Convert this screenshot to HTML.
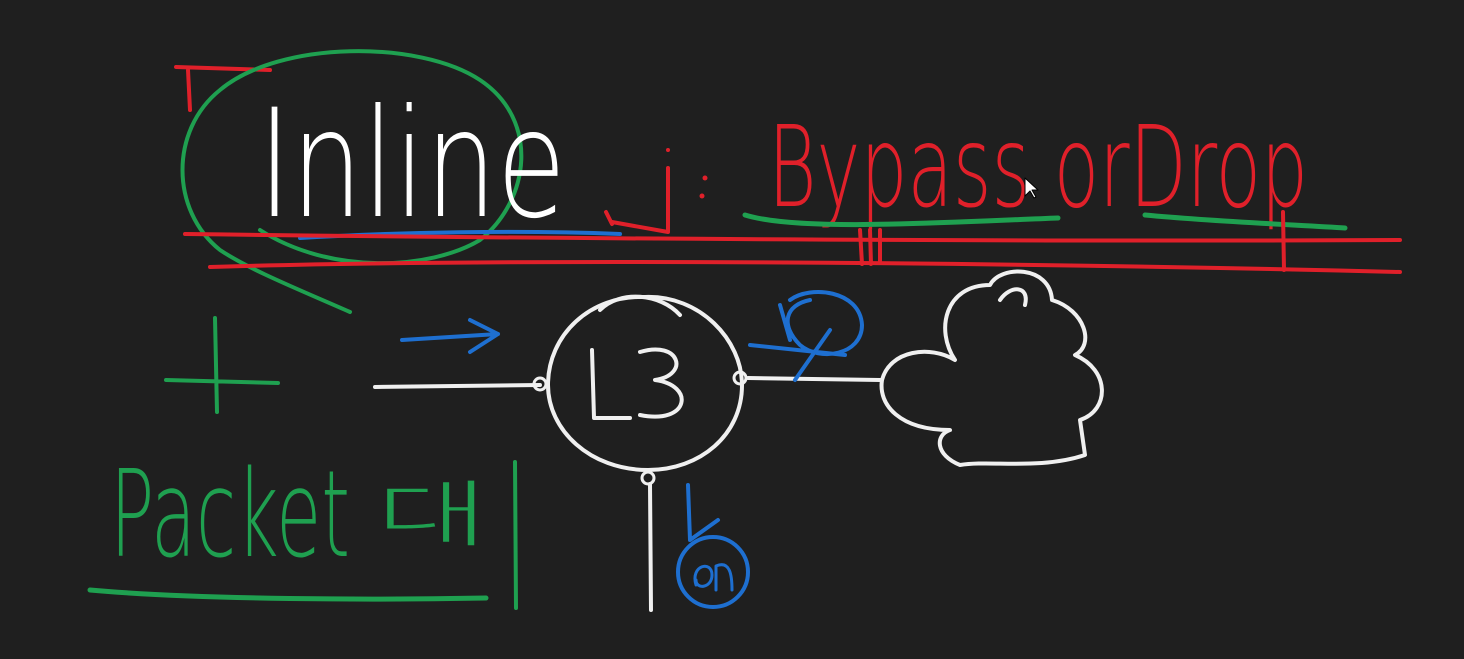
<!DOCTYPE html>
<html><head><meta charset="utf-8"><style>
html,body{margin:0;padding:0;background:#1f1f1f;width:1464px;height:659px;overflow:hidden}
svg{display:block}
text{font-family:"Liberation Sans","Noto Sans CJK KR",sans-serif}
</style></head><body>
<svg width="1464" height="659" viewBox="0 0 1464 659" fill="none" stroke-linecap="round" stroke-linejoin="round">
<rect width="1464" height="659" fill="#1f1f1f" stroke="none"/>
<!-- red bracket -->
<path d="M176 67 L270 70 M188 70 L190 110" stroke="#e0202a" stroke-width="4"/>
<!-- green ellipse -->
<path d="M350 312 C300 290 250 270 220 250 C170 210 170 130 220 90 C280 40 420 40 480 80 C540 120 530 200 480 240 C430 270 330 275 260 230" stroke="#1fa050" stroke-width="4"/>
<!-- Inline -->
<text x="258" y="216" font-size="150" fill="#ffffff" textLength="308" lengthAdjust="spacingAndGlyphs" font-weight="normal" style="font-family:'DejaVu Sans','Liberation Sans',sans-serif;font-weight:200">Inline</text>
<!-- blue underline -->
<path d="M300 238 C400 232 520 230 620 234" stroke="#1e6fd0" stroke-width="4"/>
<!-- red j : -->
<path d="M668 168 L668 232 L612 222 M606 212 L612 224" stroke="#e0202a" stroke-width="4"/>
<circle cx="668" cy="150" r="2" fill="#e0202a" stroke="none"/>
<circle cx="705" cy="178" r="2.5" fill="#e0202a" stroke="none"/>
<circle cx="702" cy="196" r="2.5" fill="#e0202a" stroke="none"/>
<!-- Bypass or Drop -->
<text x="768" y="206" font-size="112" fill="#e0202a" textLength="540" lengthAdjust="spacingAndGlyphs" style="font-family:'DejaVu Sans','Liberation Sans',sans-serif;font-weight:200">Bypass orDrop</text>
<!-- green underlines -->
<path d="M745 215 C800 232 950 222 1058 218" stroke="#1fa050" stroke-width="5"/>
<path d="M1145 215 C1220 222 1300 225 1345 228" stroke="#1fa050" stroke-width="5"/>
<!-- red double lines -->
<path d="M185 234 C500 238 1000 242 1400 240" stroke="#e0202a" stroke-width="4"/>
<path d="M210 267 C500 258 1000 262 1400 272" stroke="#e0202a" stroke-width="4"/>
<path d="M860 230 L862 264 M870 230 L871 264 M880 230 L880 262 M1283 212 L1284 270" stroke="#e0202a" stroke-width="4"/>
<!-- green plus -->
<path d="M166 380 L278 383 M215 318 L217 412" stroke="#1fa050" stroke-width="4"/>
<!-- blue arrow -->
<path d="M402 340 L498 334 M470 320 L498 334 L470 352" stroke="#1e6fd0" stroke-width="4"/>
<!-- white lines & L3 circle -->
<path d="M375 387 L540 385" stroke="#f0f0f0" stroke-width="4"/>
<path d="M645 297 C700 295 742 340 742 385 C742 435 700 470 648 470 C590 470 548 430 548 385 C548 335 590 295 645 297 Z M600 310 C620 290 660 293 680 315" stroke="#f0f0f0" stroke-width="4"/>
<circle cx="540" cy="384" r="6" stroke="#f0f0f0" stroke-width="3"/>
<circle cx="740" cy="378" r="6" stroke="#f0f0f0" stroke-width="3"/>
<circle cx="648" cy="478" r="6" stroke="#f0f0f0" stroke-width="3"/>
<path d="M592 350 L594 418 L630 418 M640 352 C680 340 690 375 655 380 C695 385 690 425 640 415" stroke="#f0f0f0" stroke-width="4"/>
<text x="-100" y="-100" font-size="10" fill="#fff">L3</text>
<path d="M748 378 L880 380 M650 484 L651 610" stroke="#f0f0f0" stroke-width="4"/>
<!-- cloud -->
<path d="M882 380 C890 350 930 345 955 360 C935 330 945 285 990 285 C1000 265 1050 265 1052 300 C1085 310 1095 345 1075 355 C1110 370 1110 410 1080 420 L1085 455 C1040 470 990 460 960 465 C935 455 935 435 950 430 C900 430 878 405 882 380 Z M1000 300 C1010 285 1030 285 1025 305" stroke="#f0f0f0" stroke-width="4"/>
<!-- blue circle on right -->
<path d="M790 300 C810 285 860 290 862 325 C862 355 820 362 800 345 C780 325 785 305 810 300 M750 345 L845 355 M795 380 L830 330 M780 305 L790 340" stroke="#1e6fd0" stroke-width="4"/>
<!-- blue down arrow and circle -->
<path d="M688 485 L690 540 L718 520" stroke="#1e6fd0" stroke-width="4"/>
<circle cx="713" cy="572" r="35" stroke="#1e6fd0" stroke-width="4"/>
<path d="M696 585 C690 565 712 560 712 575 C712 588 696 590 696 580 M716 590 L716 566 C730 560 732 575 732 590" stroke="#1e6fd0" stroke-width="3"/>
<!-- Packet -->
<text x="110" y="556" font-size="120" fill="#1fa050" textLength="240" lengthAdjust="spacingAndGlyphs" style="font-family:'DejaVu Sans','Liberation Sans',sans-serif;font-weight:200">Packet</text>
<text x="376" y="540" font-size="72" fill="#1fa050" textLength="112" lengthAdjust="spacingAndGlyphs" style="font-weight:300">대</text>
<path d="M515 462 L516 608" stroke="#1fa050" stroke-width="4"/>
<path d="M90 590 C200 600 380 600 486 598" stroke="#1fa050" stroke-width="5"/>
<!-- cursor -->
<path d="M1025 178 L1025 196 L1030 191 L1034 198 L1036 197 L1032 190 L1038 190 Z" fill="#fff" stroke="#000" stroke-width="1"/>
</svg>
</body></html>
